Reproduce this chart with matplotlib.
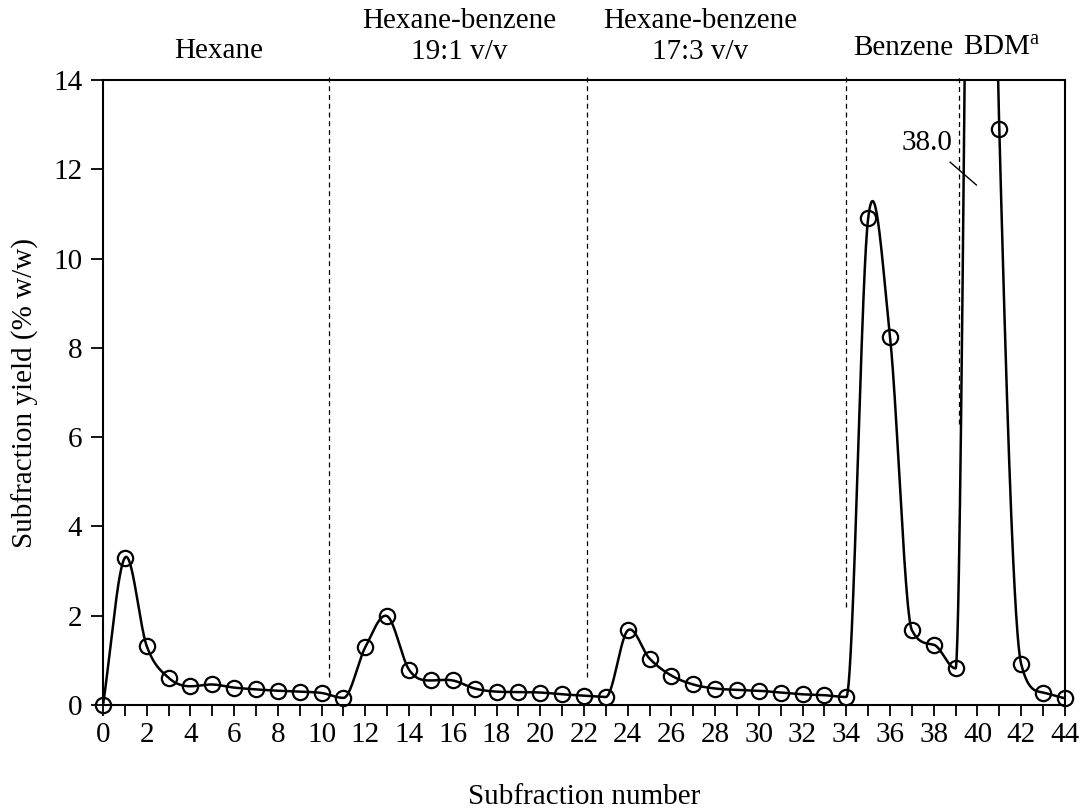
import numpy as np
import matplotlib
matplotlib.use("Agg")
import matplotlib.pyplot as plt
from matplotlib.ticker import MultipleLocator

# ---------------- data ----------------
subfraction = list(range(0, 45))
yield_pct = [0.00, 3.30, 1.32, 0.61, 0.42, 0.46, 0.39, 0.35, 0.32, 0.30,
             0.27, 0.16, 1.30, 1.99, 0.79, 0.55, 0.55, 0.37, 0.30, 0.29,
             0.28, 0.24, 0.21, 0.18, 1.67, 1.04, 0.66, 0.46, 0.37, 0.34,
             0.32, 0.28, 0.24, 0.22, 0.18, 10.90, 8.25, 1.68, 1.35, 0.82,
             38.00, 12.90, 0.92, 0.28, 0.15]

eluent_labels = ["Hexane", "Hexane-benzene\n19:1 v/v", "Hexane-benzene\n17:3 v/v",
                 "Benzene", "BDM$^{\\mathrm{a}}$"]
eluent_label_x = [5.3, 16.3, 27.3, 36.6, 41.1]
eluent_label_y = [14.65, 14.98, 14.98, 14.72, 14.72]
boundary_x = [10.35, 22.12, 34.0, 39.15]
boundary_bottom = [0.62, 0.62, 2.2, 6.3]
offscale_label = "38.0"
xticks = list(range(0, 45, 2))
yticks = list(range(0, 15, 2))

# ---------------- smooth curve (Catmull-Rom tangents, monotone limited) ----------------
x = np.array(subfraction, dtype=float)
y = np.array(yield_pct, dtype=float)
n = len(x)
d = np.diff(y) / np.diff(x)
m = np.zeros(n)
m[0] = d[0]
m[-1] = d[-1]
for k in range(1, n - 1):
    cr = (y[k + 1] - y[k - 1]) / (x[k + 1] - x[k - 1])
    if d[k - 1] * d[k] <= 0:
        is_max = d[k - 1] >= 0 and d[k] <= 0
        m[k] = cr if is_max else 0.0
    else:
        m[k] = cr
for k in range(n - 1):
    if d[k] == 0:
        continue
    a = m[k] / d[k]
    b = m[k + 1] / d[k]
    if a >= 0 and b >= 0 and a * a + b * b > 9:
        t = 3.0 / np.sqrt(a * a + b * b)
        m[k] = t * a * d[k]
        m[k + 1] = t * b * d[k]

xs, ys = [], []
for k in range(n - 1):
    h = x[k + 1] - x[k]
    t = np.linspace(0, 1, 60, endpoint=(k == n - 2))
    h00 = 2 * t**3 - 3 * t**2 + 1
    h10 = t**3 - 2 * t**2 + t
    h01 = -2 * t**3 + 3 * t**2
    h11 = t**3 - t**2
    xs.append(x[k] + t * h)
    ys.append(h00 * y[k] + h10 * h * m[k] + h01 * y[k + 1] + h11 * h * m[k + 1])
xs = np.concatenate(xs)
ys = np.concatenate(ys)

# ---------------- figure ----------------
plt.rcParams['font.family'] = ['Liberation Serif', 'DejaVu Serif']
plt.rcParams['mathtext.fontset'] = 'custom'
plt.rcParams['mathtext.rm'] = 'Liberation Serif'
plt.rcParams['mathtext.it'] = 'Liberation Serif:italic'
plt.rcParams['mathtext.bf'] = 'Liberation Serif:bold'
fs = 21
fig = plt.figure(figsize=(10.8, 8.1), dpi=100)
ax = fig.add_axes([0.0954, 0.1296, 0.8906, 0.7716])

ax.plot(xs, ys, color='black', lw=1.8, zorder=3)
mask = y <= 14
ax.plot(x[mask], y[mask], linestyle='none', marker='o', markersize=11,
        markerfacecolor='none', markeredgecolor='black', markeredgewidth=1.6,
        clip_on=False, zorder=4)

for bx, bb in zip(boundary_x, boundary_bottom):
    ax.plot([bx, bx], [bb, 14.08], color='black', lw=0.9, ls=(0, (4, 3)),
            clip_on=False, zorder=2)

ax.set_xlim(0, 44)
ax.set_ylim(0, 14)
ax.set_xticks(xticks)
ax.xaxis.set_minor_locator(MultipleLocator(1))
ax.set_yticks(yticks)
ax.tick_params(axis='x', which='both', direction='out', length=8, width=1.3,
               labelsize=fs, pad=4)
ax.tick_params(axis='y', which='major', direction='out', length=9, width=1.3,
               labelsize=fs, pad=6)
for s in ax.spines.values():
    s.set_linewidth(1.5)

ax.set_xlabel("Subfraction number", fontsize=fs, labelpad=26)
ax.set_ylabel("Subfraction yield (% w/w)", fontsize=fs, labelpad=10)

for lbl, lx, ly in zip(eluent_labels, eluent_label_x, eluent_label_y):
    ax.text(lx, ly, lbl, ha='center', va='center', fontsize=fs,
            linespacing=1.25)

ax.text(37.7, 12.6, offscale_label, ha='center', va='center', fontsize=fs)
ax.plot([38.75, 39.95], [12.16, 11.65], color='black', lw=1.0)

fig.savefig("out.png", dpi=100)
